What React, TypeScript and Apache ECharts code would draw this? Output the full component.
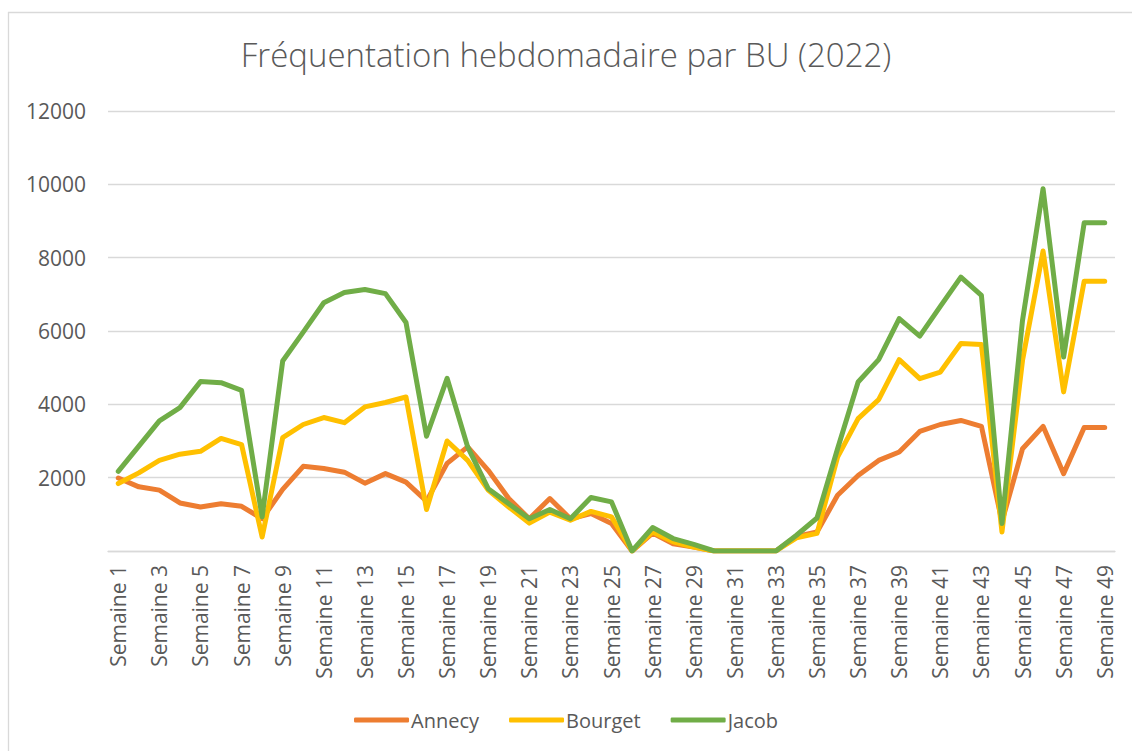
import React, { useEffect, useRef } from "react";
import * as echarts from "echarts";

const weeks = [
  "Semaine 1", "Semaine 2", "Semaine 3", "Semaine 4", "Semaine 5", "Semaine 6", "Semaine 7",
  "Semaine 8", "Semaine 9", "Semaine 10", "Semaine 11", "Semaine 12", "Semaine 13", "Semaine 14",
  "Semaine 15", "Semaine 16", "Semaine 17", "Semaine 18", "Semaine 19", "Semaine 20", "Semaine 21",
  "Semaine 22", "Semaine 23", "Semaine 24", "Semaine 25", "Semaine 26", "Semaine 27", "Semaine 28",
  "Semaine 29", "Semaine 30", "Semaine 31", "Semaine 32", "Semaine 33", "Semaine 34", "Semaine 35",
  "Semaine 36", "Semaine 37", "Semaine 38", "Semaine 39", "Semaine 40", "Semaine 41", "Semaine 42",
  "Semaine 43", "Semaine 44", "Semaine 45", "Semaine 46", "Semaine 47", "Semaine 48", "Semaine 49",
];

const annecy = [
  1990, 1750, 1660, 1310, 1200, 1290, 1220, 880, 1680, 2310, 2250, 2150, 1850, 2110,
  1880, 1360, 2390, 2840, 2200, 1430, 880, 1430, 880, 1020, 750, 0, 490, 200,
  110, 0, 0, 0, 0, 400, 520, 1520, 2060, 2470, 2700, 3260, 3450, 3560,
  3400, 800, 2790, 3400, 2110, 3370, 3370,
];

const bourget = [
  1840, 2130, 2470, 2640, 2720, 3070, 2900, 380, 3090, 3450, 3640, 3500, 3930, 4050,
  4200, 1130, 3000, 2470, 1660, 1200, 760, 1060, 840, 1080, 930, 0, 520, 250,
  110, 0, 0, 0, 0, 360, 480, 2560, 3610, 4130, 5220, 4700, 4880, 5660,
  5630, 520, 5200, 8180, 4340, 7360, 7360,
];

const jacob = [
  2170, 2860, 3550, 3910, 4620, 4590, 4380, 930, 5180, 5970, 6770, 7050, 7130, 7020,
  6230, 3130, 4710, 2840, 1700, 1290, 880, 1130, 880, 1460, 1340, 0, 640, 340,
  180, 0, 0, 0, 0, 430, 900, 2790, 4610, 5220, 6340, 5860, 6670, 7470,
  6970, 750, 6290, 9880, 5290, 8950, 8950,
];

const seriesNames = ["Annecy", "Bourget", "Jacob"];
const seriesColors = ["#ED7D31", "#FFC000", "#70AD47"];
const titleText = "Fréquentation hebdomadaire par BU (2022)";

const FONT = "'Open Sans', 'Noto Sans', sans-serif";
const TXT = "#595959";

export default function App() {
  const ref = useRef<HTMLDivElement>(null);

  useEffect(() => {
    if (!ref.current) return;
    const chart = echarts.init(ref.current, undefined, { renderer: "svg" });
    const datasets = [annecy, bourget, jacob];
    chart.setOption({
      animation: false,
      backgroundColor: "#ffffff",
      textStyle: { fontFamily: FONT },
      title: {
        text: titleText,
        left: "center",
        top: 33,
        textStyle: { fontFamily: FONT, fontSize: 33, fontWeight: 300, color: TXT },
      },
      graphic: [
        { type: "line", shape: { x1: 8.5, y1: 12, x2: 8.5, y2: 751 }, style: { stroke: "#d9d9d9", lineWidth: 1.3 } },
        { type: "line", shape: { x1: 8, y1: 12.5, x2: 1132, y2: 12.5 }, style: { stroke: "#d9d9d9", lineWidth: 1.3 } },
      ],
      legend: {
        top: 705,
        left: "center",
        icon: "roundRect",
        itemWidth: 55,
        itemHeight: 5,
        itemGap: 30,
        textStyle: { fontFamily: FONT, fontSize: 20, color: TXT, padding: [0, 0, 0, -3] },
        data: seriesNames,
      },
      grid: { left: 108, right: 17, top: 111, bottom: 200, containLabel: false },
      xAxis: {
        type: "category",
        data: weeks,
        boundaryGap: true,
        axisLine: { lineStyle: { color: "#d9d9d9", width: 1.3 } },
        axisTick: { show: false },
        axisLabel: {
          rotate: 90,
          interval: 1,
          margin: 14,
          fontFamily: FONT,
          fontSize: 21,
          color: TXT,
        },
      },
      yAxis: {
        type: "value",
        min: 0,
        max: 12000,
        interval: 2000,
        axisLine: { show: false },
        axisTick: { show: false },
        splitLine: { lineStyle: { color: "#d9d9d9", width: 1.3 } },
        axisLabel: {
          margin: 22,
          fontFamily: FONT,
          fontSize: 21,
          color: TXT,
          formatter: (v: number) => (v === 0 ? "" : String(v)),
        },
      },
      series: seriesNames.map((name, i) => ({
        name,
        type: "line",
        data: datasets[i],
        symbol: "none",
        smooth: false,
        color: seriesColors[i],
        lineStyle: { width: 5, color: seriesColors[i], cap: "round", join: "round" },
      })),
    });
    return () => chart.dispose();
  }, []);

  return (
    <div
      ref={ref}
      style={{ position: "absolute", left: 0, top: 0, width: 1132, height: 751 }}
    />
  );
}
